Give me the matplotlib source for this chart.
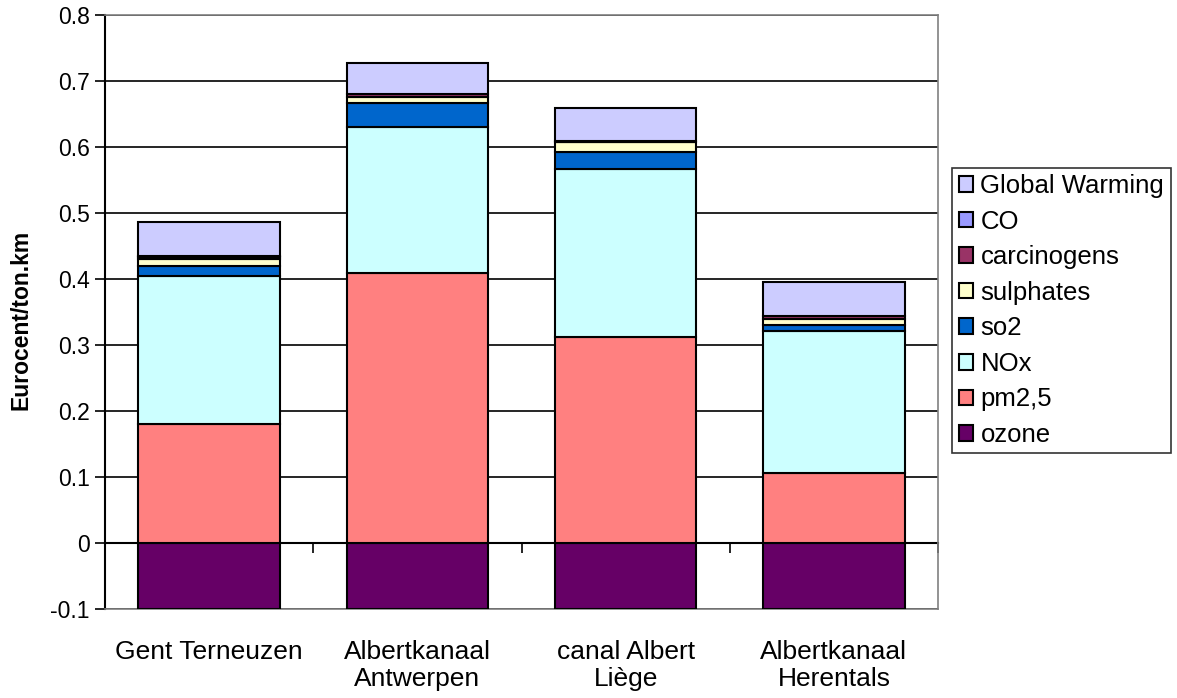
import matplotlib
matplotlib.use("Agg")
from matplotlib import pyplot as plt
import numpy as np

plt.rcParams['font.family'] = ['Liberation Sans', 'DejaVu Sans']

routes = ["Gent Terneuzen", "Albertkanaal\nAntwerpen", "canal Albert\nLiège", "Albertkanaal\nHerentals"]

# stacked components (Eurocent/ton.km), bottom to top
ozone = [-0.100, -0.100, -0.100, -0.100]
pm25 = [0.181, 0.409, 0.312, 0.106]
nox = [0.224, 0.221, 0.254, 0.215]
so2 = [0.015, 0.036, 0.027, 0.009]
sulphates = [0.011, 0.010, 0.014, 0.010]
carcinogens = [0.003, 0.004, 0.001, 0.004]
co = [0.0005, 0.0005, 0.0005, 0.0005]
global_warming = [0.052, 0.047, 0.051, 0.051]

series = [
    ("ozone", ozone, "#660066"),
    ("pm2,5", pm25, "#FF8080"),
    ("NOx", nox, "#CCFFFF"),
    ("so2", so2, "#0066CC"),
    ("sulphates", sulphates, "#FFFFCC"),
    ("carcinogens", carcinogens, "#993366"),
    ("CO", co, "#9999FF"),
    ("Global Warming", global_warming, "#CCCCFF"),
]

fig = plt.figure(figsize=(11.77, 6.98), dpi=100)
ax = fig.add_axes([0.0892, 0.1275, 0.7078, 0.851])

x = np.arange(len(routes))
pos_bottom = np.zeros(len(routes))
neg_bottom = np.zeros(len(routes))
handles = []
for name, vals, col in series:
    vals = np.array(vals)
    bottom = np.where(vals >= 0, pos_bottom, neg_bottom)
    b = ax.bar(x, vals, width=0.68, bottom=bottom, color=col, edgecolor="black",
               linewidth=1.5, label=name, zorder=3)
    handles.append(b)
    pos_bottom = pos_bottom + np.where(vals >= 0, vals, 0)
    neg_bottom = neg_bottom + np.where(vals < 0, vals, 0)

ax.set_xlim(-0.5, 3.5)
ax.set_ylim(-0.1, 0.8)
ax.yaxis.set_major_locator(plt.MultipleLocator(0.1))
ax.yaxis.set_major_formatter(plt.FuncFormatter(lambda v, p: "0" if abs(v) < 1e-9 else f"{v:.1f}"))
ax.grid(axis="y", color="black", linewidth=1.2, zorder=0)
ax.set_axisbelow(True)

ax.set_xticks(x)
ax.set_xticklabels(routes, fontsize=19)
ax.tick_params(axis="x", length=0, pad=22)
ax.tick_params(axis="y", length=7, width=1.2, labelsize=16.5, pad=4, direction="out")

for s in ["top", "right", "bottom"]:
    ax.spines[s].set_color("#808080")
    ax.spines[s].set_linewidth(1.2)
ax.spines["left"].set_color("black")
ax.spines["left"].set_linewidth(1.5)

ax.set_ylabel("Eurocent/ton.km", fontsize=16.5, fontweight="bold")
ax.yaxis.set_label_coords(-0.0876, 0.4865)

# category axis crossing at zero, ticks between categories
zero_frac = (0 - ax.get_ylim()[0]) / (ax.get_ylim()[1] - ax.get_ylim()[0])
sec = ax.secondary_xaxis(zero_frac)
sec.set_xticks(np.arange(-0.5, 4.0, 1.0))
sec.set_xticklabels([])
sec.tick_params(axis="x", length=7, width=1.2, direction="out", color="black")
sec.spines["bottom"].set_color("black")
sec.spines["bottom"].set_linewidth(1.5)

leg = ax.legend(handles[::-1], [s[0] for s in series][::-1], loc="center left",
                bbox_to_anchor=(1.017, 0.5025), fontsize=18.5, frameon=True, fancybox=False,
                edgecolor="black", handlelength=0.55, handleheight=0.55,
                handletextpad=0.3, labelspacing=0.45, borderpad=0.25, borderaxespad=0)
leg.get_frame().set_linewidth(1.2)

plt.savefig("out.png", format="png", dpi=100)
